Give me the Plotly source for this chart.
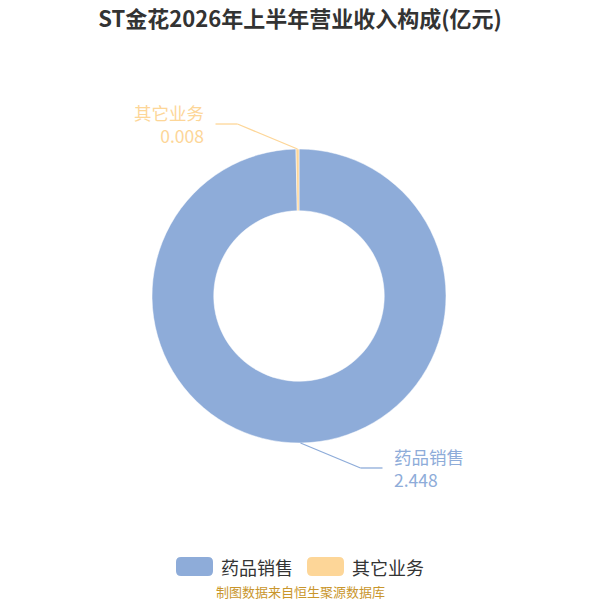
import math
import plotly.graph_objects as go

categories = ["药品销售", "其它业务"]
values = [2.448, 0.008]
value_text = ["2.448", "0.008"]
colors = ["#8eacd9", "#fdd698"]

W, H = 600, 600
cx, cy, R = 299, 296, 147


def px(x, y):
    return x / W, 1 - y / H


fig = go.Figure()
fig.add_trace(go.Pie(
    labels=categories,
    values=values,
    hole=0.58,
    sort=False,
    direction="clockwise",
    rotation=0,
    marker=dict(colors=colors, line=dict(color="white", width=0.5)),
    textinfo="none",
    hoverinfo="label+value",
    showlegend=False,
    domain=dict(x=[(cx - R) / W, (cx + R) / W], y=[1 - (cy + R) / H, 1 - (cy - R) / H]),
))

# leader lines + outside labels, placed from the slice mid angles
shapes, annots = [], []
total = sum(values)
start = 0
for name, v, txt, col in zip(categories, values, value_text, colors):
    mid = (start + v / 2) / total * 2 * math.pi
    start += v
    ex, ey = cx + R * math.sin(mid), cy - R * math.cos(mid)
    side = 1 if math.sin(mid) > 0.001 or (abs(math.sin(mid)) <= 0.001 and math.cos(mid) < 0) else -1
    up = -1 if math.cos(mid) > 0 else 1
    bx, by = ex + side * 60, ey + up * 25
    tx = bx + side * 22
    for (x0, y0, x1, y1) in [(ex, ey, bx, by), (bx, by, tx, by)]:
        a, b = px(x0, y0)
        c, d = px(x1, y1)
        shapes.append(dict(type="line", xref="paper", yref="paper",
                           x0=a, y0=b, x1=c, y1=d, line=dict(color=col, width=1.3)))
    lx, ly = px(tx + side * 9, by)
    annots.append(dict(
        x=lx, y=ly, xref="paper", yref="paper",
        text=name + "<br>" + txt, showarrow=False,
        xanchor="left" if side > 0 else "right", yanchor="middle",
        align="left" if side > 0 else "right",
        font=dict(size=17.5, color=col),
    ))

# legend at the bottom: rounded swatches + names
leg_x = [176, 307]
for name, col, x0 in zip(categories, colors, leg_x):
    x1, y0, y1, r = x0 + 37, 557, 576, 5
    pts = [(x0 + r, y0), (x1 - r, y0), (x1, y0 + r), (x1, y1 - r),
           (x1 - r, y1), (x0 + r, y1), (x0, y1 - r), (x0, y0 + r)]
    p = [px(*q) for q in pts]
    path = (f"M{p[0][0]},{p[0][1]} L{p[1][0]},{p[1][1]} Q{x1 / W},{1 - y0 / H} {p[2][0]},{p[2][1]} "
            f"L{p[3][0]},{p[3][1]} Q{x1 / W},{1 - y1 / H} {p[4][0]},{p[4][1]} "
            f"L{p[5][0]},{p[5][1]} Q{x0 / W},{1 - y1 / H} {p[6][0]},{p[6][1]} "
            f"L{p[7][0]},{p[7][1]} Q{x0 / W},{1 - y0 / H} {p[0][0]},{p[0][1]} Z")
    shapes.append(dict(type="path", xref="paper", yref="paper", path=path,
                       fillcolor=col, line=dict(width=0)))
    tx, ty = px(x1 + 6, 566.5)
    annots.append(dict(x=tx, y=ty, xref="paper", yref="paper", showarrow=False,
                       text=name, xanchor="left", yanchor="middle",
                       font=dict(size=18, color="#333333")))

sx, sy = px(300, 591)
annots.append(dict(
    x=sx, y=sy, xref="paper", yref="paper", showarrow=False,
    text="制图数据来自恒生聚源数据库", xanchor="center", yanchor="middle",
    font=dict(size=13, color="#c9962c"),
))

fig.update_layout(
    width=W, height=H,
    margin=dict(l=0, r=0, t=0, b=0),
    paper_bgcolor="white",
    font=dict(family="Noto Sans CJK SC", color="#333333"),
    title=dict(text="<b>ST金花2026年上半年营业收入构成(亿元)</b>", x=0.5, xanchor="center",
               y=1 - 19 / H, yanchor="middle", font=dict(size=22, color="#333333")),
    showlegend=False,
    shapes=shapes,
    annotations=annots,
)

fig.write_html("out.html", config={"displayModeBar": False},
               post_script="document.body.style.margin='0px';")
